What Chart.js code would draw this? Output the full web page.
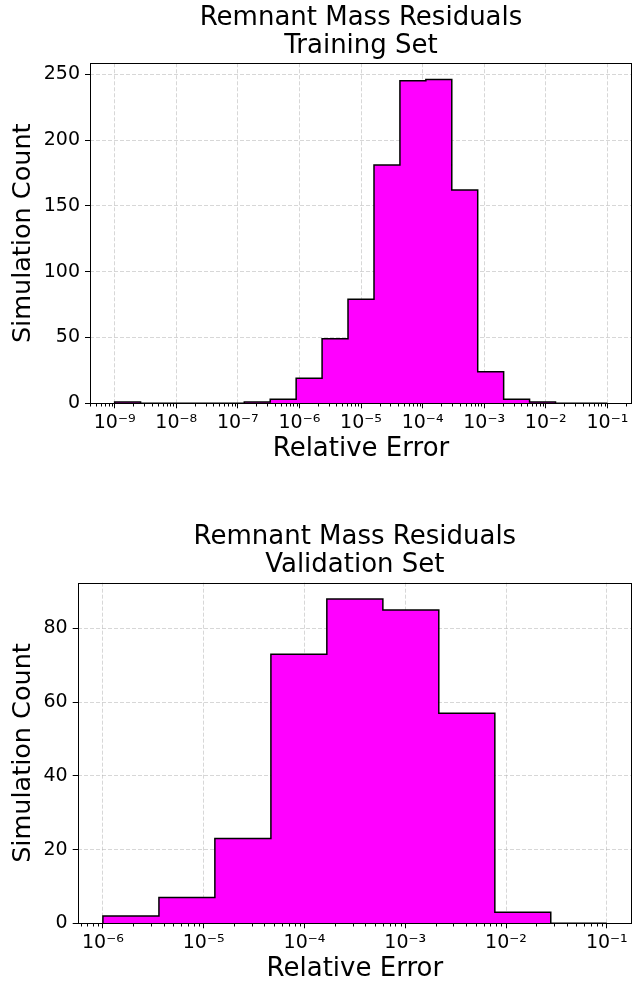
<!DOCTYPE html>
<html>
<head>
<meta charset="utf-8">
<script src="https://cdn.jsdelivr.net/npm/chart.js@4.4.1/dist/chart.umd.min.js"></script>
<style>
  html, body { margin: 0; padding: 0; background: #fff; }
  #caja1 { position: absolute; left: 0; top: 0; width: 633px; height: 493px; }
  #caja2 { position: absolute; left: 0; top: 493px; width: 633px; height: 494px; }
</style>
</head>
<body>
<div id="caja1"><canvas id="graficoEntrenamiento" width="633" height="493"></canvas></div>
<div id="caja2"><canvas id="graficoValidacion" width="633" height="494"></canvas></div>
<script>
// bin edges in log10(relative error), counts per bin
const trainEdges = [-9.000, -8.579, -8.158, -7.737, -7.316, -6.895, -6.474, -6.053, -5.632, -5.211,
                    -4.789, -4.368, -3.947, -3.526, -3.105, -2.684, -2.263, -1.842, -1.421, -1.000];
const trainCounts = [1, 0, 0, 0, 0, 1, 3, 19, 49, 79, 181, 245, 246, 162, 24, 3, 1, 0, 0];
const trainXTicks = [-9, -8, -7, -6, -5, -4, -3, -2, -1];
const trainYTicks = [0, 50, 100, 150, 200, 250];

const valEdges = [-6.000, -5.444, -4.889, -4.333, -3.778, -3.222, -2.667, -2.111, -1.556, -1.000];
const valCounts = [2, 7, 23, 73, 88, 85, 57, 3, 0];
const valXTicks = [-6, -5, -4, -3, -2, -1];
const valYTicks = [0, 20, 40, 60, 80];

const fuente = "'DejaVu Sans', sans-serif";
const colorGrid = 'rgba(176,176,176,0.5)';

const sup = {'-': '\u207B', '0': '\u2070', '1': '\u00B9', '2': '\u00B2', '3': '\u00B3',
             '4': '\u2074', '5': '\u2075', '6': '\u2076', '7': '\u2077', '8': '\u2078', '9': '\u2079'};
const potencia = v => '10' + String(v).split('').map(c => sup[c] || c).join('');

// puntos del contorno del histograma (stepfilled)
function pasos(edges, counts) {
  const pts = [{x: edges[0], y: 0}];
  counts.forEach((c, i) => pts.push({x: edges[i], y: c}));
  pts.push({x: edges[edges.length - 1], y: counts[counts.length - 1]});
  pts.push({x: edges[edges.length - 1], y: 0});
  return pts;
}

// marco negro y ticks menores del eje log
const marco = {
  id: 'marco',
  afterDraw(chart) {
    const {ctx, chartArea: a, scales: {x}} = chart;
    ctx.save();
    ctx.strokeStyle = '#000';
    ctx.lineWidth = 1;
    const l = Math.round(a.left) + 0.5, t = Math.round(a.top) + 0.5;
    const r = Math.round(a.right) - 0.5, b = Math.round(a.bottom) + 0.5;
    ctx.strokeRect(l, t, r - l, b - t);
    ctx.beginPath();
    for (let n = Math.floor(x.min); n <= Math.ceil(x.max); n++) {
      for (let k = 2; k < 10; k++) {
        const v = n + Math.log10(k);
        if (v < x.min || v > x.max) continue;
        const px = Math.round(x.getPixelForValue(v)) + 0.5;
        ctx.moveTo(px, b);
        ctx.lineTo(px, b + 3);
      }
    }
    ctx.stroke();
    ctx.restore();
  }
};

function crearHistograma(id, cfg) {
  const ctx = document.getElementById(id).getContext('2d');
  return new Chart(ctx, {
    type: 'scatter',
    data: {
      datasets: [{
        data: pasos(cfg.edges, cfg.counts),
        showLine: true,
        stepped: 'before',
        fill: 'origin',
        backgroundColor: '#ff00ff',
        borderColor: 'rgba(0,0,0,0)',
        borderWidth: 0,
        pointRadius: 0,
        order: 2
      }, {
        data: pasos(cfg.edges, cfg.counts),
        showLine: true,
        stepped: 'before',
        fill: false,
        borderColor: '#000',
        borderWidth: 1.5,
        pointRadius: 0,
        order: 1
      }]
    },
    options: {
      responsive: false,
      animation: false,
      layout: { padding: { left: 0, right: 1, top: 0, bottom: 0 } },
      plugins: {
        legend: { display: false },
        tooltip: { enabled: false },
        title: {
          display: true,
          fullSize: false,
          text: cfg.title,
          color: '#000',
          font: { family: fuente, size: 26, weight: 'normal', lineHeight: 1.08 },
          padding: { top: cfg.titleTop, bottom: cfg.titleBottom }
        }
      },
      scales: {
        x: {
          type: 'linear',
          min: cfg.xMin,
          max: cfg.xMax,
          z: 1,
          afterFit: s => { s.height = cfg.xHeight; },
          afterBuildTicks: s => { s.ticks = cfg.xTicks.map(v => ({value: v})); },
          ticks: {
            color: '#000',
            font: { family: fuente, size: 19 },
            padding: 3,
            maxRotation: 0,
            autoSkip: false,
            callback: v => potencia(v)
          },
          grid: { color: colorGrid, lineWidth: 1, tickColor: '#000', tickLength: 5, tickWidth: 1 },
          border: { display: false, dash: [4, 2] },
          title: {
            display: true,
            text: 'Relative Error',
            color: '#000',
            font: { family: fuente, size: 26 },
            padding: { top: 0, bottom: cfg.xTitlePad }
          }
        },
        y: {
          type: 'linear',
          min: 0,
          max: cfg.yMax,
          z: 1,
          afterFit: s => { s.width = cfg.yWidth; },
          afterBuildTicks: s => { s.ticks = cfg.yTicks.map(v => ({value: v})); },
          ticks: {
            color: '#000',
            font: { family: fuente, size: 19 },
            padding: 5
          },
          grid: { color: colorGrid, lineWidth: 1, tickColor: '#000', tickLength: 5, tickWidth: 1 },
          border: { display: false, dash: [4, 2] },
          title: {
            display: true,
            text: 'Simulation Count',
            color: '#000',
            font: { family: fuente, size: 25.5 },
            padding: { top: 8, bottom: 0 }
          }
        }
      }
    },
    plugins: [marco]
  });
}

document.addEventListener("DOMContentLoaded", () => {
  crearHistograma('graficoEntrenamiento', {
    edges: trainEdges, counts: trainCounts,
    xTicks: trainXTicks, yTicks: trainYTicks,
    title: ['Remnant Mass Residuals', 'Training Set'],
    xMin: -9.4, xMax: -0.6, yMax: 258.3,
    yWidth: 90, xHeight: 89.7, titleTop: 4, titleBottom: 3.1, xTitlePad: 28
  });
  crearHistograma('graficoValidacion', {
    edges: valEdges, counts: valCounts,
    xTicks: valXTicks, yTicks: valYTicks,
    title: ['Remnant Mass Residuals', 'Validation Set'],
    xMin: -6.25, xMax: -0.75, yMax: 92.4,
    yWidth: 77.7, xHeight: 63.7, titleTop: 30, titleBottom: 3.5, xTitlePad: 2
  });
});
</script>
</body>
</html>
